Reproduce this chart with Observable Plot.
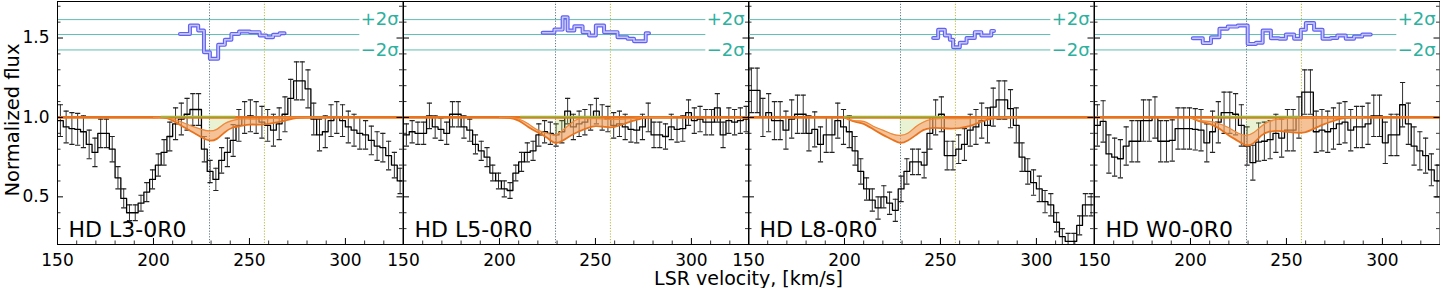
<!DOCTYPE html>
<html><head><meta charset="utf-8">
<script src="https://cdn.jsdelivr.net/npm/d3@7"></script>
<script src="https://cdn.jsdelivr.net/npm/@observablehq/plot@0.6"></script>
<style>
html,body{margin:0;padding:0;background:#fff;}
#wrap{position:relative;width:1440px;height:288px;overflow:hidden;font-family:"DejaVu Sans",sans-serif;background:#fff;}
#wrap svg{position:absolute;top:0;}
</style></head><body><div id="wrap"></div>
<script>
// ---- data ----
const binStart = [150,153,156,159,162,165,168,171,174,177,180,183,186,189,192,195,198,201,204,207,210,213,216,219,222,225,228,231,234,237,240,243,246,249,252,255,258,261,264,267,270,273,276,279,282,285,288,291,294,297,300,303,306,309,312,315,318,321,324,327];
const binWidth = 3;
const panelLabels = ["HD L3-0R0","HD L5-0R0","HD L8-0R0","HD W0-0R0"];

const flux1 = [0.98,0.94,0.93,0.925,0.91,0.83,0.78,0.90,0.90,0.80,0.62,0.49,0.40,0.40,0.46,0.53,0.61,0.70,0.78,0.88,0.96,0.99,1.02,1.05,1.05,0.80,0.66,0.61,0.73,0.78,0.855,0.95,1.00,1.01,1.00,0.97,0.95,0.92,0.96,1.02,1.12,1.23,1.23,1.18,0.99,0.89,0.91,0.98,1.00,0.98,0.94,0.92,0.90,0.89,0.855,0.82,0.81,0.76,0.70,0.60];
const err1 = [0.10,0.10,0.10,0.10,0.10,0.09,0.09,0.09,0.09,0.08,0.07,0.06,0.05,0.05,0.05,0.06,0.06,0.07,0.08,0.09,0.10,0.10,0.10,0.10,0.10,0.08,0.07,0.07,0.08,0.09,0.10,0.10,0.10,0.10,0.10,0.10,0.10,0.10,0.10,0.11,0.12,0.12,0.12,0.12,0.10,0.10,0.10,0.10,0.10,0.10,0.10,0.10,0.10,0.09,0.09,0.09,0.09,0.09,0.08,0.08];
const flux2 = [0.89,0.91,0.90,0.90,1.01,0.94,0.925,0.90,1.02,1.02,0.94,0.92,0.83,0.79,0.75,0.65,0.60,0.55,0.54,0.65,0.72,0.78,0.79,0.89,0.91,0.90,0.89,0.91,1.04,0.94,0.96,0.97,1.00,1.04,1.00,0.99,0.95,0.96,0.94,0.925,0.92,0.94,1.00,0.89,0.89,0.88,0.94,0.925,0.93,1.03,0.98,0.99,0.97,0.97,1.06,0.89,0.98,0.97,0.98,0.99];
const err2 = [0.07,0.07,0.07,0.07,0.08,0.07,0.07,0.07,0.08,0.08,0.07,0.07,0.06,0.06,0.06,0.05,0.05,0.05,0.05,0.05,0.06,0.06,0.06,0.07,0.07,0.07,0.07,0.07,0.08,0.08,0.08,0.08,0.08,0.08,0.08,0.08,0.08,0.08,0.08,0.08,0.08,0.08,0.09,0.08,0.08,0.08,0.08,0.08,0.08,0.08,0.08,0.08,0.08,0.08,0.09,0.08,0.08,0.08,0.08,0.08];
const flux3 = [1.17,1.17,1.00,1.03,0.98,0.98,0.92,0.99,1.02,1.02,0.90,0.925,0.83,0.89,0.89,0.98,0.94,0.91,0.79,0.66,0.55,0.48,0.43,0.50,0.46,0.415,0.55,0.66,0.72,0.72,0.70,0.90,1.00,1.02,0.76,0.76,0.80,0.83,0.92,0.94,0.98,0.95,1.065,1.11,1.11,1.055,0.95,0.75,0.66,0.59,0.55,0.47,0.45,0.34,0.25,0.22,0.22,0.32,0.45,0.45];
const err3 = [0.14,0.14,0.12,0.12,0.12,0.12,0.12,0.12,0.12,0.12,0.11,0.11,0.11,0.11,0.11,0.11,0.11,0.10,0.09,0.08,0.07,0.07,0.07,0.07,0.07,0.07,0.08,0.08,0.08,0.08,0.08,0.10,0.11,0.11,0.09,0.09,0.09,0.10,0.10,0.11,0.11,0.11,0.12,0.12,0.12,0.12,0.11,0.09,0.08,0.08,0.08,0.07,0.07,0.06,0.05,0.05,0.05,0.06,0.07,0.07];
const flux4 = [0.95,0.975,0.77,0.75,0.74,0.82,0.85,0.85,0.98,0.98,1.00,0.85,0.85,0.855,0.93,0.93,0.93,0.925,0.92,0.84,0.91,0.97,1.03,1.03,1.02,0.95,0.82,0.715,0.845,0.85,0.86,0.90,0.87,0.92,0.92,1.00,1.16,1.16,0.91,0.92,0.91,0.93,0.96,0.97,0.92,0.94,0.94,0.96,1.01,1.01,0.84,0.89,0.89,1.08,0.96,0.82,0.79,0.76,0.67,0.60];
const err4 = [0.13,0.13,0.12,0.12,0.12,0.12,0.13,0.13,0.13,0.13,0.13,0.13,0.13,0.13,0.13,0.13,0.13,0.13,0.13,0.12,0.13,0.13,0.13,0.13,0.13,0.13,0.12,0.11,0.12,0.12,0.12,0.12,0.12,0.13,0.13,0.13,0.14,0.14,0.13,0.13,0.13,0.13,0.13,0.13,0.13,0.13,0.13,0.13,0.13,0.13,0.13,0.13,0.13,0.14,0.13,0.12,0.12,0.11,0.10,0.10];

// model band (upper / lower curves)
const modelV = [200,205,210,215,220,225,229,233,237,241,245,250,255,260,265,270,275,280,285,290];
const hi1 = [1,1,0.99,0.97,0.945,0.925,0.915,0.925,0.96,0.98,0.99,0.99,0.99,0.993,0.997,1,1,1,1,1];
const lo1 = [1,1,0.98,0.945,0.91,0.875,0.855,0.865,0.905,0.935,0.945,0.955,0.955,0.96,0.97,0.985,0.997,1,1,1];
const hi2 = [1,1,0.99,0.96,0.92,0.90,0.89,0.92,0.96,0.99,0.993,0.993,0.99,0.988,0.99,0.995,1,1,1,1];
const lo2 = [1,0.998,0.98,0.94,0.905,0.87,0.84,0.855,0.885,0.91,0.93,0.945,0.94,0.94,0.96,0.98,0.996,1,1,1];
const hi3 = [1,0.98,0.975,0.945,0.92,0.895,0.887,0.90,0.94,0.97,0.987,0.993,0.993,0.993,0.993,0.997,1,1,1,1];
const lo3 = [1,0.975,0.96,0.925,0.89,0.86,0.84,0.855,0.887,0.92,0.933,0.933,0.93,0.933,0.945,0.967,0.988,0.996,1,1];
const hi4 = [1,0.98,0.975,0.96,0.935,0.90,0.887,0.905,0.945,0.975,0.987,0.993,1,1,1,1,1,1,1,1];
const lo4 = [1,0.975,0.96,0.93,0.887,0.85,0.824,0.84,0.887,0.91,0.915,0.91,0.904,0.908,0.933,0.96,0.98,0.996,1,1];

// residuals (bin edges, last one closes the final step)
const resV1 = [213.8,219.0,223.3,226.3,229.4,233.7,237.2,240.6,244.6,250.2,255.3,258.8,262.3,265.7,268.3];
const res1  = [1.526,1.579,1.547,1.41,1.37,1.457,1.489,1.526,1.541,1.537,1.516,1.505,1.52,1.53];
const resV2 = [222.5,228.6,232.9,235.5,239.0,243.3,246.7,250.2,254.5,261.5,266.7,270.1,276.2,277.9];
const res2  = [1.533,1.553,1.631,1.547,1.574,1.537,1.516,1.579,1.537,1.505,1.495,1.48,1.53];
const resV3 = [246.2,248.8,252.3,254.9,256.6,260.1,263.6,267.9,271.3,276.5,277.9];
const res3  = [1.50,1.552,1.516,1.489,1.442,1.47,1.50,1.537,1.516,1.545];
const resV4 = [201.2,206.4,210.7,215.1,219.4,224.6,229.8,234.1,237.6,241.9,246.2,249.7,254.0,257.5,260.1,264.4,268.8,273.1,276.5,280.9,285.2,289.5,293.9];
const res4  = [1.499,1.468,1.505,1.558,1.572,1.579,1.463,1.47,1.547,1.499,1.495,1.522,1.495,1.552,1.594,1.552,1.495,1.50,1.516,1.495,1.51,1.522];

const greenSpan = [[204,243],[211,253],[200,252],[213,257]];
const compV = [229.2, 257.8];
const sigmaLevels = [1.425, 1.522, 1.616];
const sigmaLabels = [{y:1.616, t:"+2σ"},{y:1.425, t:"−2σ"}];
const sigmaLineEnd = 307.5, sigmaLabelX = 308;
const xMajor = [150,200,250,300];
const xMinor = [160,170,180,190,210,220,230,240,260,270,280,290,310,320];
const yMajor = [0.5,1.0,1.5];
const yMinor = [0.3,0.4,0.6,0.7,0.8,0.9,1.1,1.2,1.3,1.4,1.6,1.7];

const fluxes = [flux1,flux2,flux3,flux4], errs = [err1,err2,err3,err4];
const his = [hi1,hi2,hi3,hi4], los = [lo1,lo2,lo3,lo4];
const resVs = [resV1,resV2,resV3,resV4], ress = [res1,res2,res3,res4];

const capSymbol = {draw(ctx, size){ const r = Math.sqrt(size/Math.PI); ctx.moveTo(-r,0); ctx.lineTo(r,0); }};
const ORANGE = "#e8731c", TEAL = "#5fbdb3", TEALTXT = "#2eb09e";

const wrap = document.getElementById("wrap");
const W = 345.5, H = 288, mt = 1, mb = 44;
const ph = H - mt - mb;

function makePanel(i){
  const ml = i === 0 ? 57 : 6, mr = 6;
  const f = fluxes[i], e = errs[i];
  const pts = binStart.map((s,k)=>({c: s + binWidth/2, f: f[k], lo: f[k]-e[k], hi: f[k]+e[k]}));
  const step = binStart.map((s,k)=>({x: s, y: f[k]}));
  step.push({x: binStart[binStart.length-1] + binWidth, y: f[f.length-1]});
  const model = modelV.map((v,k)=>({v, hi: his[i][k], lo: los[i][k]}));
  const green = model.filter(d => d.v >= 229 && d.v <= 250);
  const rv = resVs[i], rr = ress[i];
  const res = rv.map((v,k)=>({v, r: rr[Math.min(k, rr.length-1)]}));
  const plot = Plot.plot({
    width: W + ml + mr, height: H,
    marginLeft: ml, marginRight: mr, marginTop: mt, marginBottom: mb,
    style: {background: "transparent", overflow: "visible", fontFamily: "DejaVu Sans", fontSize: "17px", color: "#000"},
    x: {domain: [150, 330], ticks: xMajor, tickSize: 0, tickPadding: 9, tickFormat: d => String(d), label: null},
    y: {domain: [0.2, 1.73], ticks: yMajor, tickSize: 0, tickPadding: 8, tickFormat: ".1f", label: null, axis: i === 0 ? "left" : null},
    marks: [
      Plot.ruleY(sigmaLevels, {x1: 150, x2: sigmaLineEnd, stroke: TEAL, strokeWidth: 1}),
      Plot.ruleX([compV[0]], {stroke: "#5f7885", strokeWidth: 1, strokeDasharray: "1.2,1.6"}),
      Plot.ruleX([compV[1]], {stroke: "#b5bb40", strokeWidth: 1, strokeDasharray: "1.2,1.6"}),
      Plot.ruleX(pts, {x: "c", y1: "lo", y2: "hi", stroke: "#333", strokeWidth: 1, clip: true}),
      Plot.dot(pts, {x: "c", y: "hi", r: 2.6, symbol: capSymbol, stroke: "#222", strokeWidth: 1.2, clip: true}),
      Plot.dot(pts, {x: "c", y: "lo", r: 2.6, symbol: capSymbol, stroke: "#222", strokeWidth: 1.2, clip: true}),
      Plot.line(step, {x: "x", y: "y", curve: "step-after", stroke: "#000", strokeWidth: 1.3, clip: true}),
      Plot.areaY(model, {x: "v", y1: "lo", y2: "hi", curve: "natural", fill: "#f0a060", fillOpacity: 0.65}),
      Plot.areaY(green, {x: "v", y1: "hi", y2: 1, curve: "natural", fill: "#a8cf55", fillOpacity: 0.25}),
      Plot.ruleY([1], {stroke: ORANGE, strokeWidth: 2.8}),
      Plot.line(model, {x: "v", y: "lo", curve: "natural", stroke: ORANGE, strokeWidth: 1.8}),
      Plot.line(model, {x: "v", y: "hi", curve: "natural", stroke: "#ec8a3a", strokeWidth: 1.2}),
      Plot.ruleY([1], {x1: greenSpan[i][0], x2: greenSpan[i][1], stroke: "#8cbf3a", strokeWidth: 1.6, dy: -1}),
      Plot.line(res, {x: "v", y: "r", curve: "step-after", stroke: "#6262f2", strokeWidth: 4}),
      Plot.line(res, {x: "v", y: "r", curve: "step-after", stroke: "#c6c6ff", strokeWidth: 1.6}),
      Plot.text(sigmaLabels, {x: sigmaLabelX, y: "y", text: "t", textAnchor: "start", fill: TEALTXT, fontSize: 18}),
      Plot.text([panelLabels[i]], {frameAnchor: "bottom-left", dx: 11, dy: -8, lineAnchor: "bottom", fontSize: 22, fill: "#000"}),
      Plot.ruleX(xMajor, {stroke: "#000", strokeWidth: 1, insetTop: ph - 6}),
      Plot.ruleX(xMinor, {stroke: "#000", strokeWidth: 0.8, insetTop: ph - 3.5}),
      Plot.ruleY(yMajor, {stroke: "#000", strokeWidth: 1, insetRight: W - 6}),
      Plot.ruleY(yMinor, {stroke: "#000", strokeWidth: 0.8, insetRight: W - 3.5}),
      Plot.ruleY(yMajor, {stroke: "#000", strokeWidth: 1, insetLeft: W - 6}),
      Plot.ruleY(yMinor, {stroke: "#000", strokeWidth: 0.8, insetLeft: W - 3.5}),
      Plot.frame({stroke: "#000", strokeWidth: 1})
    ]
  });
  plot.style.left = (57 + W * i - ml) + "px";
  wrap.appendChild(plot);
}
for (let i = 0; i < 4; i++) makePanel(i);

// overall axis labels
const ns = "http://www.w3.org/2000/svg";
const ov = document.createElementNS(ns, "svg");
ov.setAttribute("width", 1440); ov.setAttribute("height", 288);
ov.style.left = "0px"; ov.style.pointerEvents = "none";
const yl = document.createElementNS(ns, "text");
yl.setAttribute("transform", "translate(18.5,120) rotate(-90)");
yl.setAttribute("text-anchor", "middle");
yl.setAttribute("font-size", "19.5"); yl.setAttribute("font-family", "DejaVu Sans");
yl.textContent = "Normalized flux";
const xl = document.createElementNS(ns, "text");
xl.setAttribute("x", 748.5); xl.setAttribute("y", 285);
xl.setAttribute("text-anchor", "middle");
xl.setAttribute("font-size", "19"); xl.setAttribute("font-family", "DejaVu Sans");
xl.textContent = "LSR velocity, [km/s]";
ov.appendChild(yl); ov.appendChild(xl);
wrap.appendChild(ov);
</script></body></html>
